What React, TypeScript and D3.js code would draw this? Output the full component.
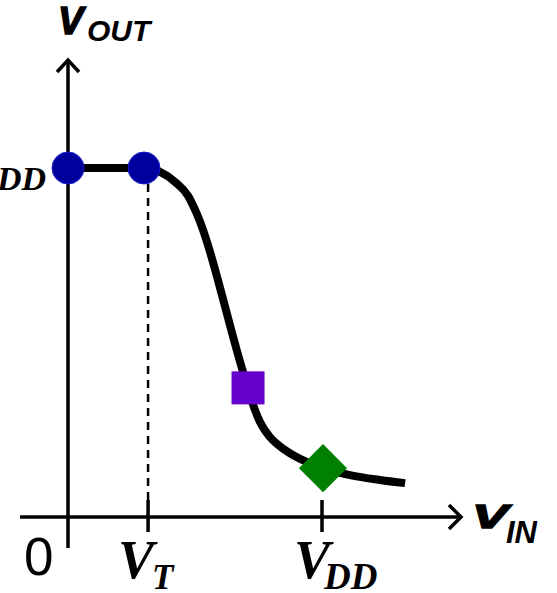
import React from "react";
import * as d3 from "d3";

// V_IN values (fraction of VDD) and V_OUT values (fraction of VDD) along the transfer curve
const curveVin = [0, 0.302, 0.361, 0.42, 0.471, 0.502, 0.69, 0.733, 0.753, 0.792, 0.851, 0.929, 1.0, 1.106, 1.224, 1.322];
const curveVout = [1.0, 1.0, 0.989, 0.96, 0.92, 0.874, 0.407, 0.307, 0.272, 0.229, 0.192, 0.16, 0.14, 0.12, 0.106, 0.097];

const VT = 0.314;
const VDD = 1.0;
const circleVin = [0, 0.298];
const circleVout = [1.0, 1.0];
const squarePoint = [0.706, 0.37];
const diamondPoint = [1.0, 0.14];

const W = 557;
const H = 593;

export default function App() {
  const x = d3.scaleLinear().domain([0, 1]).range([68, 323]);
  const y = d3.scaleLinear().domain([0, 1]).range([517, 168]);
  const pts: [number, number][] = curveVin.map((v, i) => [v, curveVout[i]]);
  const line = d3
    .line<[number, number]>()
    .x((d) => x(d[0]))
    .y((d) => y(d[1]))
    .curve(d3.curveMonotoneX);

  const x0 = x(0);
  const y0 = y(0);
  const sans = "'Liberation Sans', Arial, sans-serif";
  const serif = "'Liberation Serif', 'Times New Roman', serif";

  return (
    <svg width={W} height={H} style={{ position: "absolute", left: 0, top: 0 }}>
      <rect width={W} height={H} fill="#fff" />
      {/* axes */}
      <line x1={20} y1={y0} x2={461} y2={y0} stroke="#000" strokeWidth={3.5} />
      <polyline points={`449,505 461,${y0} 449,529`} fill="none" stroke="#000" strokeWidth={3.5} />
      <line x1={x0} y1={548} x2={x0} y2={60} stroke="#000" strokeWidth={3.5} />
      <polyline points={`${x0 - 11},72 ${x0},60 ${x0 + 11},72`} fill="none" stroke="#000" strokeWidth={3.5} />
      {/* ticks */}
      {[VT, VDD].map((v, i) => (
        <line key={i} x1={x(v) + (i === 0 ? 0 : -1)} x2={x(v) + (i === 0 ? 0 : -1)} y1={500} y2={532} stroke="#000" strokeWidth={3.5} />
      ))}
      {/* dashed VT line */}
      <line x1={x(VT)} x2={x(VT)} y1={y(1) + 16} y2={500} stroke="#000" strokeWidth={2.5} strokeDasharray="8,6" />
      {/* curve */}
      <path d={line(pts) || ""} fill="none" stroke="#000" strokeWidth={8} strokeLinejoin="round" />
      {/* markers */}
      {circleVin.map((v, i) => (
        <circle key={i} cx={x(v)} cy={y(circleVout[i])} r={16} fill="#00009c" stroke="#1a1ad0" strokeWidth={1} />
      ))}
      <rect x={x(squarePoint[0]) - 16.5} y={y(squarePoint[1]) - 16.5} width={33} height={33} fill="#6600cc" />
      <rect
        x={x(diamondPoint[0]) - 17}
        y={y(diamondPoint[1]) - 17}
        width={34}
        height={34}
        fill="#008000"
        transform={`rotate(45 ${x(diamondPoint[0])} ${y(diamondPoint[1])})`}
      />
      {/* labels */}
      <text x={58} y={34} fontFamily={sans} fontWeight="bold" fontStyle="italic" fontSize={38} stroke="#000" strokeWidth={1.5}>V</text>
      <text x={87} y={41} fontFamily={sans} fontWeight="bold" fontStyle="italic" fontSize={30}>OUT</text>
      <text x={472} y={528} fontFamily={sans} fontWeight="bold" fontStyle="italic" fontSize={34} stroke="#000" strokeWidth={1.5} textLength={36} lengthAdjust="spacingAndGlyphs">V</text>
      <text x={506} y={543} fontFamily={sans} fontWeight="bold" fontStyle="italic" fontSize={31}>IN</text>
      <text x={24} y={575} fontFamily={sans} fontSize={53}>0</text>
      <text x={118} y={578} fontFamily={serif} fontWeight="bold" fontStyle="italic" fontSize={54}>V</text>
      <text x={152} y={589} fontFamily={serif} fontWeight="bold" fontStyle="italic" fontSize={35}>T</text>
      <text x={294} y={578} fontFamily={serif} fontWeight="bold" fontStyle="italic" fontSize={54}>V</text>
      <text x={324} y={589} fontFamily={serif} fontWeight="bold" fontStyle="italic" fontSize={37}>DD</text>
      <text x={46} y={190} textAnchor="end" fontFamily={serif} fontWeight="bold" fontStyle="italic" fontSize={34}>DD</text>
    </svg>
  );
}
